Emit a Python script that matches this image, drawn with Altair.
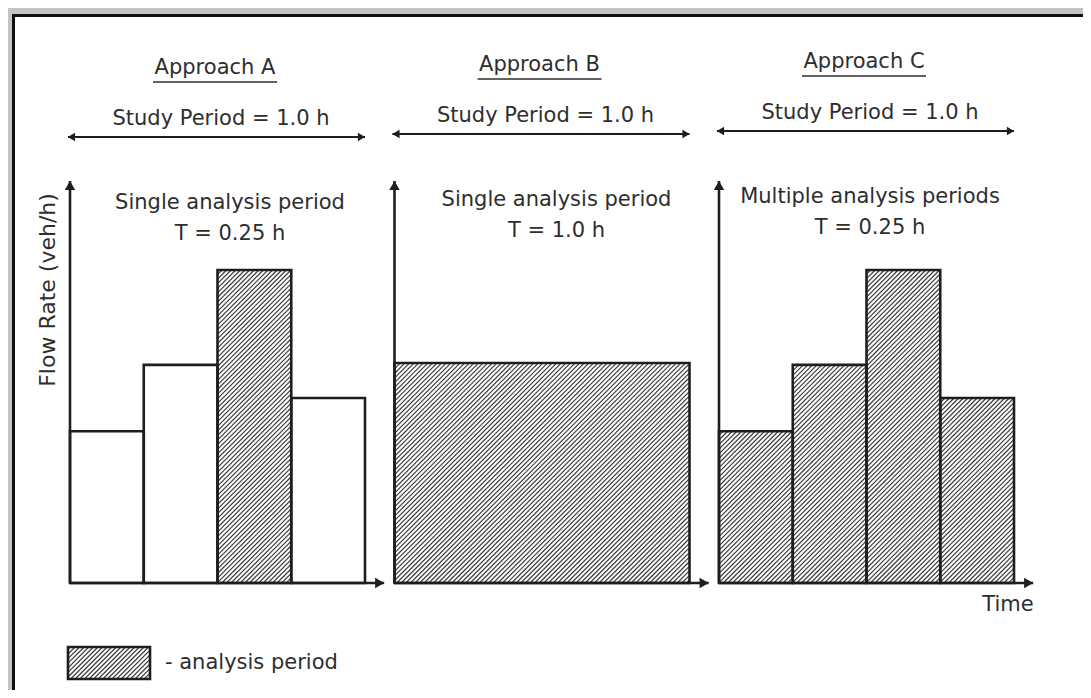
import altair as alt
import numpy as np
import pandas as pd

# ---------------- data ----------------
approaches = ["Approach A", "Approach B", "Approach C"]
study_labels = ["Study Period = 1.0 h", "Study Period = 1.0 h", "Study Period = 1.0 h"]
analysis_titles = ["Single analysis period", "Single analysis period", "Multiple analysis periods"]
analysis_T = ["T = 0.25 h", "T = 1.0 h", "T = 0.25 h"]
flow_15min = [800, 1150, 1650, 975]      # veh/h, four 15-min intervals
flow_hourly = 1160                        # veh/h, whole hour (Approach B)
interval_h = 0.25                         # h
study_h = 1.0                             # h
hatched_A = [False, False, True, False]
hatched_C = [True, True, True, True]
y_label = "Flow Rate (veh/h)"
x_label = "Time"
legend_label = "- analysis period"

# ---------------- layout ----------------
W, H = 1075, 682
PX_H = 295.0      # px per hour
PX_Q = 0.1897     # px per veh/h
X0, Y0 = 62.0, 575.0
OFFSETS = [0.0, 1.1, 2.2]
DY = [3, 0, -3]   # slight per-panel vertical drift of the labels (px)

xs = alt.Scale(domain=[-X0 / PX_H, (W - X0) / PX_H], nice=False, zero=False)
ys = alt.Scale(domain=[-(H - Y0) / PX_Q, Y0 / PX_Q], nice=False, zero=False)


def hx(page_x):
    return (page_x - 8 - X0) / PX_H


def qy(page_y):
    return (Y0 - (page_y - 8)) / PX_Q


def X(f):
    return alt.X(f, type="quantitative", scale=xs, axis=None)


def Y(f):
    return alt.Y(f, type="quantitative", scale=ys, axis=None)


INK = "#1e1e1e"
TXT = "#2e2e2e"
FONT = "DejaVu Sans"
FS = 21

# ---------------- bars ----------------
rows = []
for i, q in enumerate(flow_15min):
    rows.append(dict(x=OFFSETS[0] + i * interval_h, x2=OFFSETS[0] + (i + 1) * interval_h,
                     y=0, y2=q, hatch=hatched_A[i]))
rows.append(dict(x=OFFSETS[1], x2=OFFSETS[1] + study_h, y=0, y2=flow_hourly, hatch=True))
for i, q in enumerate(flow_15min):
    rows.append(dict(x=OFFSETS[2] + i * interval_h, x2=OFFSETS[2] + (i + 1) * interval_h,
                     y=0, y2=q, hatch=hatched_C[i]))
bars = pd.DataFrame(rows)

legend_box = dict(x=hx(68), x2=hx(150), y=qy(679), y2=qy(647))


def hatch_segments(x0, x1, y0, y1, spacing=4.6):
    a0, a1 = x0 * PX_H, x1 * PX_H
    b0, b1 = y0 * PX_Q, y1 * PX_Q
    segs = []
    c = np.ceil((a0 - b1) / spacing) * spacing
    while c < a1 - b0:
        s = max(a0, b0 + c)
        e = min(a1, b1 + c)
        if e - s > 0.5:
            segs.append(dict(x=s / PX_H, y=(s - c) / PX_Q, x2=e / PX_H, y2=(e - c) / PX_Q))
        c += spacing
    return segs


hseg = []
for _, r in bars[bars.hatch].iterrows():
    hseg += hatch_segments(r.x, r.x2, r.y, r.y2)
hseg += hatch_segments(legend_box["x"], legend_box["x2"], legend_box["y"], legend_box["y2"])
hatch_df = pd.DataFrame(hseg)

one = pd.DataFrame({"a": [0]})

# ---------------- frame ----------------
frame = alt.Chart(one).mark_rect(fill="white").encode(
    x=alt.value(4), x2=alt.value(W), y=alt.value(6), y2=alt.value(H))
frame_top = alt.Chart(one).mark_rule(color="#111", strokeWidth=3).encode(
    x=alt.value(4), x2=alt.value(W), y=alt.value(7.5))
frame_left = alt.Chart(one).mark_rule(color="#111", strokeWidth=3).encode(
    x=alt.value(5.5), y=alt.value(6), y2=alt.value(H))

bar_fill = alt.Chart(bars).mark_rect(fill="white").encode(
    x=X("x"), x2="x2", y=Y("y"), y2="y2")
hatch = alt.Chart(hatch_df).mark_rule(color="#3c3c3c", strokeWidth=1.2).encode(
    x=X("x"), x2="x2", y=Y("y"), y2="y2")
bar_outline = alt.Chart(bars).mark_rect(fillOpacity=0, stroke=INK, strokeWidth=2.6).encode(
    x=X("x"), x2="x2", y=Y("y"), y2="y2")
legend_outline = alt.Chart(pd.DataFrame([legend_box])).mark_rect(
    fillOpacity=0, stroke=INK, strokeWidth=2.6).encode(x=X("x"), x2="x2", y=Y("y"), y2="y2")

# ---------------- axes (arrows) ----------------
ax_tip_y = qy(181)
ax_len = 1.065
axes_df = pd.DataFrame([dict(x=o, x2=o + ax_len, y=0, ytop=ax_tip_y) for o in OFFSETS])
v_axis = alt.Chart(axes_df).mark_rule(color=INK, strokeWidth=2.6).encode(
    x=X("x"), y=Y("y"), y2="ytop")
h_axis = alt.Chart(axes_df).mark_rule(color=INK, strokeWidth=2.6).encode(
    x=X("x"), x2="x2", y=Y("y"))
up_head = alt.Chart(axes_df).mark_point(shape="triangle-up", size=110, filled=True, opacity=1,
                                        color=INK, yOffset=4.5).encode(x=X("x"), y=Y("ytop"))
right_head = alt.Chart(axes_df).mark_point(shape="triangle-right", size=110, filled=True, opacity=1,
                                           color=INK, xOffset=-4.5).encode(x=X("x2"), y=Y("y"))

# ---------------- study period arrows ----------------
sp = pd.DataFrame([dict(x=o - 0.007, x2=o + study_h, y=qy(134 + d)) for o, d in zip(OFFSETS, DY)])
sp_line = alt.Chart(sp).mark_rule(color=INK, strokeWidth=2).encode(x=X("x"), x2="x2", y=Y("y"))
sp_left = alt.Chart(sp).mark_point(shape="triangle-left", size=70, filled=True, opacity=1,
                                   color=INK, xOffset=3.5).encode(x=X("x"), y=Y("y"))
sp_right = alt.Chart(sp).mark_point(shape="triangle-right", size=70, filled=True, opacity=1,
                                    color=INK, xOffset=-3.5).encode(x=X("x2"), y=Y("y"))

# ---------------- texts ----------------
title_cx = [160, 162, 151]
texts = []
for k, o in enumerate(OFFSETS):
    d = DY[k]
    texts.append(dict(x=o + 145 / PX_H, y=qy(65 + d), t=approaches[k]))
    texts.append(dict(x=o + 151 / PX_H, y=qy(116 + d), t=study_labels[k]))
    texts.append(dict(x=o + title_cx[k] / PX_H, y=qy(200 + d), t=analysis_titles[k]))
    texts.append(dict(x=o + title_cx[k] / PX_H, y=qy(231 + d), t=analysis_T[k]))
texts.append(dict(x=hx(1008), y=qy(605), t=x_label))
text_df = pd.DataFrame(texts)
labels = alt.Chart(text_df).mark_text(font=FONT, fontSize=FS, color=TXT, baseline="middle",
                                      align="center").encode(x=X("x"), y=Y("y"), text="t:N")

ul = pd.DataFrame([dict(x=o + 145 / PX_H - 62 / PX_H, x2=o + 145 / PX_H + 62 / PX_H,
                        y=qy(79 + d)) for o, d in zip(OFFSETS, DY)])
underline = alt.Chart(ul).mark_rule(color=TXT, strokeWidth=1.5).encode(x=X("x"), x2="x2", y=Y("y"))

ylab = alt.Chart(pd.DataFrame([dict(x=hx(48), y=qy(290), t=y_label)])).mark_text(
    font=FONT, fontSize=22, color=TXT, angle=270, baseline="middle", align="center").encode(
    x=X("x"), y=Y("y"), text="t:N")
leg_text = alt.Chart(pd.DataFrame([dict(x=hx(165), y=qy(663), t=legend_label)])).mark_text(
    font=FONT, fontSize=FS, color=TXT, baseline="middle", align="left").encode(
    x=X("x"), y=Y("y"), text="t:N")

chart = alt.layer(
    frame, frame_top, frame_left,
    bar_fill, hatch, bar_outline, legend_outline,
    v_axis, h_axis, up_head, right_head,
    sp_line, sp_left, sp_right,
    labels, underline, ylab, leg_text,
).properties(
    width=W, height=H, background="#c4c4c4", padding=0,
    autosize=alt.AutoSizeParams(type="none"),
).configure_view(strokeWidth=0)

chart.save("out.html", embed_options={"renderer": "svg", "actions": False})
